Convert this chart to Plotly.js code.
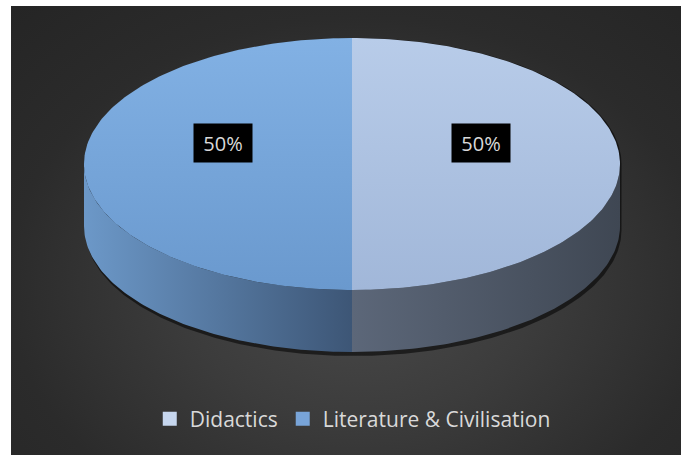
<!DOCTYPE html>
<html>
<head>
<meta charset="utf-8">
<script src="https://cdn.plot.ly/plotly-3.0.1.min.js"></script>
<style>
  html, body { margin:0; padding:0; background:#ffffff; }
  #bg { position:absolute; left:11px; top:6px; width:670px; height:449px;
        background: radial-gradient(ellipse 75% 85% at 52% 62%, #4a4a4a 0%, #3c3c3c 35%, #2b2b2b 70%, #252525 100%); }
  #chart { position:absolute; left:0; top:0; width:681px; height:455px; }
</style>
</head>
<body>
<div id="bg"></div>
<div id="chart"></div>
<script>
// ---- data ----
const categories = ['Didactics', 'Literature & Civilisation'];
const values = [50, 50];

// ---- styles ----
const topGrad = [['#b8cce9', '#a1b7d9'], ['#82b1e4', '#6a99ce']];   // top -> bottom
const sideGrad = [['#5c6779', '#3f4753'], ['#6c98c8', '#3d5676']];  // left -> right
const legendColors = ['#c6d6ee', '#78a4d8'];

// ---- geometry (pixel space) ----
const cx = 352, cy = 164, rx = 268, ry = 126, depth = 62;
const W = 681, H = 455;
const rad = d => d * Math.PI / 180;
function pt(theta, dy) { return [cx + rx * Math.sin(rad(theta)), cy - ry * Math.cos(rad(theta)) + (dy || 0)]; }
function arc(a1, a2, dy) {
  const xs = [], ys = [];
  const n = Math.max(2, Math.ceil(Math.abs(a2 - a1)));
  for (let i = 0; i <= n; i++) { const p = pt(a1 + (a2 - a1) * i / n, dy); xs.push(p[0]); ys.push(p[1]); }
  return [xs, ys];
}

const total = values.reduce((a, b) => a + b, 0);
const traces = [];
const annotations = [];

// shadow under the cylinder
{
  const [x1, y1] = arc(90, 270, depth + 4);
  const [x0, y0] = arc(270, 450, 0);
  traces.push({ type:'scatter', mode:'lines', x:x0.concat(x1).map(v => v + 1.5), y:y0.concat(y1),
    fill:'toself', fillcolor:'rgba(0,0,0,0.55)', line:{width:0}, hoverinfo:'skip', showlegend:false });
}

let start = 0;
const slices = values.map((v, i) => {
  const a1 = start, a2 = start + v / total * 360;
  start = a2;
  return { i, a1, a2 };
});

// sides (visible front half: 90..270 deg clockwise from 12 o'clock)
slices.forEach(s => {
  [0, 360, -360].forEach(off => {
    const lo = Math.max(s.a1 + off, 90), hi = Math.min(s.a2 + off, 270);
    if (hi > lo) {
      const [tx, ty] = arc(lo, hi, 0);
      const [bx, by] = arc(hi, lo, depth);
      traces.push({ type:'scatter', mode:'lines', x:tx.concat(bx, [tx[0]]), y:ty.concat(by, [ty[0]]),
        fill:'toself', line:{width:0}, hoverinfo:'skip', showlegend:false,
        fillgradient:{ type:'horizontal', colorscale:[[0, sideGrad[s.i][0]], [1, sideGrad[s.i][1]]] } });
    }
  });
});

// top faces
slices.forEach(s => {
  const [ax, ay] = arc(s.a1, s.a2, 0);
  traces.push({ type:'scatter', mode:'lines', x:[cx].concat(ax, [cx]), y:[cy].concat(ay, [cy]),
    fill:'toself', line:{width:0}, hoverinfo:'skip', showlegend:false, name:categories[s.i],
    fillgradient:{ type:'vertical', colorscale:[[0, topGrad[s.i][1]], [1, topGrad[s.i][0]]] } });
  const mid = (s.a1 + s.a2) / 2;
  const p = pt(mid, 0);
  annotations.push({
    x: cx + (p[0] - cx) * 0.48, y: cy + (p[1] - cy) * 0.48 - 21,
    xref:'x', yref:'y', text: Math.round(values[s.i] / total * 100) + '%', showarrow:false,
    bgcolor:'#000000', width:56, height:36, borderpad:1,
    font:{ family:'Open Sans, sans-serif', size:20, color:'#d9d9d9' }
  });
});

// legend entries
categories.forEach((c, i) => {
  traces.push({ type:'scatter', mode:'markers', x:[null], y:[null], name:c,
    marker:{ symbol:'square', size:14, color:legendColors[i] }, hoverinfo:'skip' });
});

const layout = {
  width:W, height:H,
  margin:{l:0, r:0, t:0, b:0},
  paper_bgcolor:'rgba(0,0,0,0)', plot_bgcolor:'rgba(0,0,0,0)',
  xaxis:{ range:[0, W], visible:false, fixedrange:true },
  yaxis:{ range:[H, 0], visible:false, fixedrange:true },
  showlegend:true,
  legend:{ orientation:'h', x:0.518, xanchor:'center', y:(H - 419) / H, yanchor:'middle',
    font:{ family:'Open Sans, sans-serif', size:21, color:'#d9d9d9' }, bgcolor:'rgba(0,0,0,0)', itemwidth:30 },
  annotations: annotations
};

Plotly.newPlot('chart', traces, layout, { staticPlot:true, displayModeBar:false });
</script>
</body>
</html>
